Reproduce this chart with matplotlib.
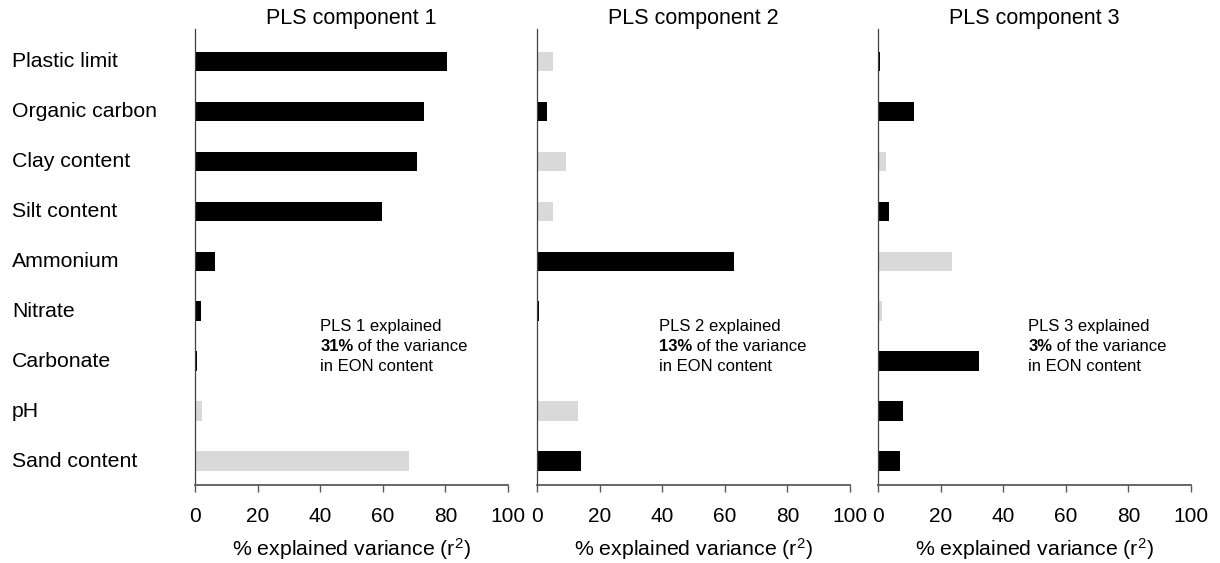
import matplotlib.pyplot as plt
import matplotlib.transforms as mtransforms
import numpy as np

plt.rcParams['font.family'] = ['Liberation Sans', 'DejaVu Sans']
plt.rcParams['mathtext.fontset'] = 'custom'
plt.rcParams['mathtext.rm'] = 'Liberation Sans'
plt.rcParams['mathtext.it'] = 'Liberation Sans'
plt.rcParams['mathtext.default'] = 'regular'

variables = ["Plastic limit", "Organic carbon", "Clay content", "Silt content",
             "Ammonium", "Nitrate", "Carbonate", "pH", "Sand content"]

# r2 values (%) for each PLS component, and whether the loading is positive (black) or negative (grey)
pls1 = [80.6, 73.3, 70.8, 59.9, 6.5, 2.0, 0.6, 2.1, 68.5]
pls1_pos = [1, 1, 1, 1, 1, 1, 1, 0, 0]
pls2 = [5.1, 3.1, 9.4, 5.1, 63.0, 0.7, 0.0, 13.0, 14.1]
pls2_pos = [0, 1, 0, 0, 1, 1, 1, 0, 1]
pls3 = [0.5, 11.5, 2.4, 3.5, 23.5, 1.2, 32.2, 8.0, 7.0]
pls3_pos = [1, 1, 0, 1, 0, 0, 1, 1, 1]

titles = ["PLS component 1", "PLS component 2", "PLS component 3"]
explained = ["31%", "13%", "3%"]
xticks = [0, 20, 40, 60, 80, 100]

W, H = 1220, 563
fig = plt.figure(figsize=(W / 100, H / 100), dpi=100)

lefts = [195, 537, 878]
top, bottom = 29, 485
text_x = [40, 39, 48]

y = np.arange(len(variables))
axes = []
for i, (vals, pos) in enumerate([(pls1, pls1_pos), (pls2, pls2_pos), (pls3, pls3_pos)]):
    ax = fig.add_axes([lefts[i] / W, 1 - bottom / H, 313 / W, (bottom - top) / H])
    colors = ['black' if p else '#d9d9d9' for p in pos]
    ax.barh(y, vals, height=0.39, color=colors, edgecolor='none')
    ax.set_xlim(0, 100)
    ax.set_ylim(8.48, -0.65)
    ax.set_xticks(xticks)
    ax.set_xticklabels([str(t) for t in xticks], fontsize=15)
    ax.tick_params(axis='x', direction='out', length=5, width=1, color='#595959', pad=11)
    ax.set_yticks([])
    for s in ['top', 'right']:
        ax.spines[s].set_visible(False)
    ax.spines['bottom'].set_color('#595959')
    ax.spines['bottom'].set_linewidth(1.3)
    ax.spines['left'].set_color('#404040')
    ax.spines['left'].set_linewidth(0.9)
    ax.set_xlabel("% explained variance (r$^2$)", fontsize=15.3, labelpad=7)
    ax.set_title(titles[i], fontsize=15.5, pad=1)

    # annotation
    tx = text_x[i]
    ax.text(tx, 5.3, "PLS %d explained" % (i + 1), fontsize=12, va='center', ha='left')
    b = ax.text(tx, 5.7, explained[i], fontsize=12, va='center', ha='left', fontweight='bold')
    ax.annotate(" of the variance", xy=(1, 0), xycoords=b, va='bottom', ha='left', fontsize=12)
    ax.text(tx, 6.1, "in EON content", fontsize=12, va='center', ha='left')
    axes.append(ax)

trans = mtransforms.blended_transform_factory(fig.transFigure, axes[0].transData)
for j, name in enumerate(variables):
    fig.text(12 / W, j, name, transform=trans, fontsize=15.3, va='center', ha='left')

fig.savefig("out.png", dpi=100)
